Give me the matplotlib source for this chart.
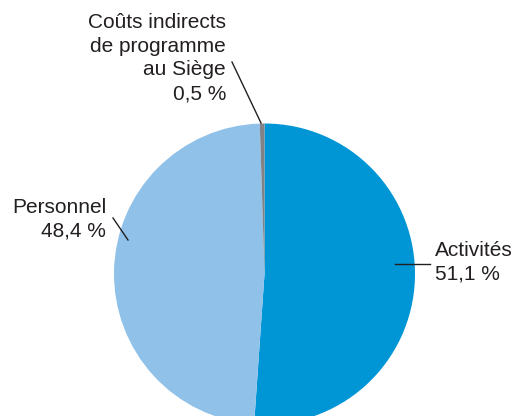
import matplotlib.pyplot as plt

# Budget shares (%)
labels = ['Activités', 'Personnel', 'Coûts indirects\nde programme\nau Siège']
shares = [51.1, 48.4, 0.5]
share_text = ['51,1 %', '48,4 %', '0,5 %']
colors = ['#0096D6', '#90C1E9', '#808285']

W, H = 519, 416
plt.rcParams['font.family'] = ['Liberation Sans', 'DejaVu Sans']

fig = plt.figure(figsize=(W / 100, H / 100), dpi=100)
ax = fig.add_axes([0, 0, 1, 1])

def py(y):
    # pixel row -> data y
    return H - y

cx, cy, r = 264.5, 274, 150.5
ax.pie(shares, colors=colors, startangle=90, counterclock=False,
       center=(cx, py(cy)), radius=r, frame=True,
       wedgeprops=dict(linewidth=0))
ax.set_xlim(0, W)
ax.set_ylim(0, H)
ax.set_aspect('equal')
ax.axis('off')

txt = '#231F20'
fs = 15
ls = 1.32

# leader lines
ax.plot([395, 430], [py(264), py(264)], color=txt, lw=1)
ax.plot([128, 113], [py(240), py(218)], color=txt, lw=1)
ax.plot([261, 232], [py(123), py(62)], color=txt, lw=1)

ax.text(435, py(262), labels[0] + '\n' + share_text[0], ha='left', va='center',
        fontsize=fs, color=txt, linespacing=ls)
ax.text(106, py(219), labels[1] + '\n' + share_text[1], ha='right', va='center',
        fontsize=fs, color=txt, linespacing=ls, multialignment='right')
ax.text(226, py(58), labels[2] + '\n' + share_text[2], ha='right', va='center',
        fontsize=fs, color=txt, linespacing=ls, multialignment='right')

fig.savefig('out.png', dpi=100)
